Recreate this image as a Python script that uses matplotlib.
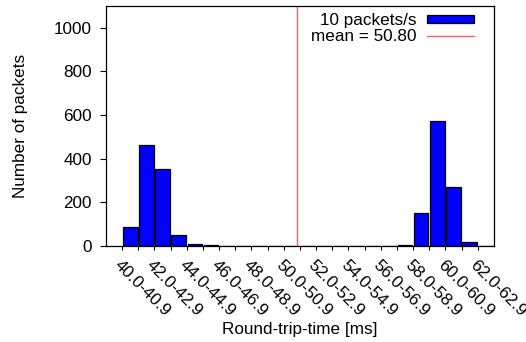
import matplotlib.pyplot as plt
from matplotlib.lines import Line2D
from matplotlib.patches import Patch

plt.rcParams['font.family'] = ['Liberation Sans', 'DejaVu Sans']
plt.rcParams['font.size'] = 12.3

# bin start [ms] -> number of packets in that 1 ms bin
bins = list(range(40, 63))
counts = [86, 461, 352, 52, 8, 3, 0, 0, 0, 0, 0, 2, 1, 0, 0, 0, 0, 4,
          149, 573, 270, 20, 0]
mean_rtt = 50.80
tick_labels = ['%d.0-%d.9' % (b, b) for b in bins]

fig = plt.figure(figsize=(5.26, 3.42), dpi=100)
ax = fig.add_axes([0.2015, 0.2807, 0.7376, 0.7018])

ax.bar([b + 0.5 for b in bins], counts, width=0.9, color='#0000ff',
       edgecolor='black', linewidth=0.9)
ax.axvline(mean_rtt, color='#ff5c5c', linewidth=1)

ax.set_xlim(39, 63)
ax.set_ylim(0, 1100)
ax.set_yticks([0, 200, 400, 600, 800, 1000])
ax.set_xticks(bins)
ax.set_xticklabels([l if i % 2 == 0 else '' for i, l in enumerate(tick_labels)],
                   rotation=-45, ha='left', va='top', rotation_mode='anchor')
ax.tick_params(axis='both', direction='out', width=0.8, colors='black')
ax.tick_params(axis='x', length=3.2, pad=5)
ax.tick_params(axis='y', length=4.3, pad=6)
for s in ax.spines.values():
    s.set_linewidth(0.9)

ax.set_xlabel('Round-trip-time [ms]')
ax.xaxis.set_label_coords(0.5, -0.315)
ax.set_ylabel('Number of packets')
ax.yaxis.set_label_coords(-0.22, 0.5)
ax.yaxis.label.set_va('center')

handles = [Patch(facecolor='#0000ff', edgecolor='black', linewidth=0.9),
           Line2D([], [], color='#ff5c5c', linewidth=1)]
ax.legend(handles, ['10 packets/s', 'mean = 50.80'], loc='upper right',
          bbox_to_anchor=(0.948, 0.972), frameon=False, markerfirst=False,
          handlelength=2.75, handleheight=0.35, handletextpad=0.6,
          labelspacing=0.1, borderpad=0, borderaxespad=0)

fig.savefig('out.png', dpi=100)
